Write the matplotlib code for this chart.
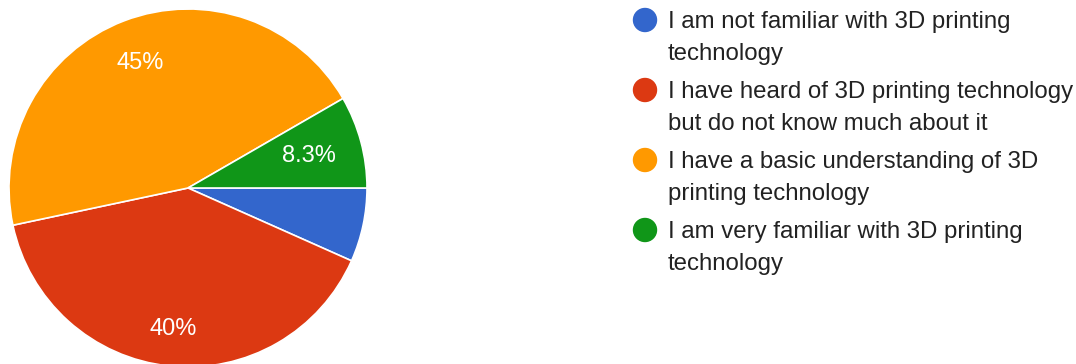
import math
import matplotlib.pyplot as plt
from matplotlib.patches import Circle

# survey answers (counts) and their legend texts
labels = [
    "I am not familiar with 3D printing\ntechnology",
    "I have heard of 3D printing technology\nbut do not know much about it",
    "I have a basic understanding of 3D\nprinting technology",
    "I am very familiar with 3D printing\ntechnology",
]
counts = [4, 24, 27, 5]
colors = ["#3366cc", "#dc3912", "#ff9900", "#109618"]
pct_dist = [0.0, 0.79, 0.75, 0.70]

W, H = 1076, 364
fig = plt.figure(figsize=(W / 100, H / 100), dpi=100)
plt.rcParams['font.family'] = ['Liberation Sans', 'DejaVu Sans']

# pie: centre at (188, 188) px, radius 179 px
cx, cy, r = 188, 188, 179
ax = fig.add_axes([(cx - r) / W, (H - cy - r) / H, 2 * r / W, 2 * r / H])


def fmt(p):
    return "" if p < 7 else ("%.2g%%" % p)


wedges, texts, autotexts = ax.pie(counts, colors=colors, startangle=0, counterclock=False,
                                  autopct=fmt, pctdistance=0.75, radius=1,
                                  wedgeprops=dict(edgecolor="white", linewidth=1.2),
                                  textprops=dict(color="white", fontsize=17))
ax.set_xlim(-1, 1)
ax.set_ylim(-1, 1)
ax.set_aspect("equal")
ax.axis("off")

# move percent labels along their slice's mid-angle
for w, t, d in zip(wedges, autotexts, pct_dist):
    mid = math.radians((w.theta1 + w.theta2) / 2)
    t.set_position((d * math.cos(mid), d * math.sin(mid)))

# legend drawn in pixel coordinates
lg = fig.add_axes([0, 0, 1, 1])
lg.set_xlim(0, W)
lg.set_ylim(H, 0)
lg.axis("off")
lg.patch.set_alpha(0)

y = 20
for lab, col in zip(labels, colors):
    lg.add_patch(Circle((645, y), 11.5, color=col))
    for line in lab.split("\n"):
        lg.text(668, y + 2, line, fontsize=17.3, color="#222222", va="center", ha="left")
        y += 32
    y += 6

fig.savefig("out.png", dpi=100)
